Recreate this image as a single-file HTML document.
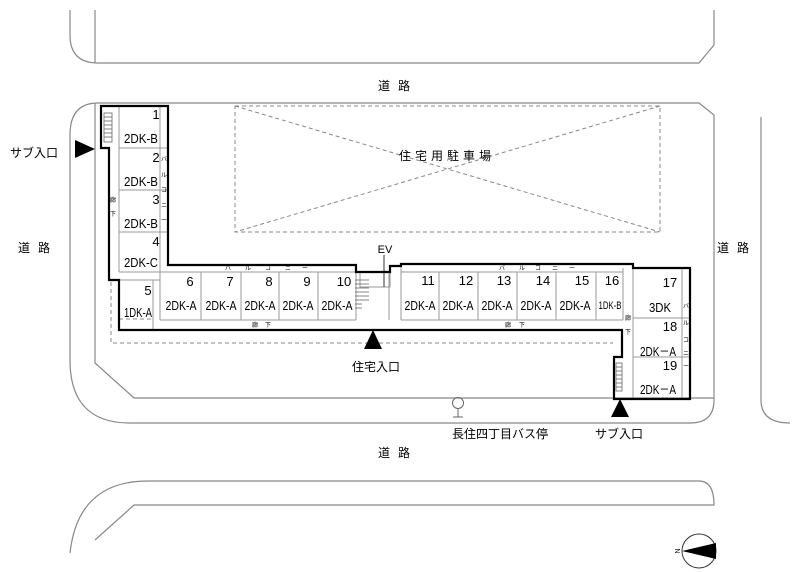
<!DOCTYPE html>
<html><head><meta charset="utf-8"><style>
html,body{margin:0;padding:0;background:#fff;}
svg{display:block;font-family:"Liberation Sans","Noto Sans CJK JP",sans-serif;}
.r{fill:none;stroke:#888;stroke-width:1.2}
.t{fill:none;stroke:#999;stroke-width:1}
.k{fill:none;stroke:#000;stroke-width:2.2}
.d{fill:none;stroke:#888;stroke-width:1;stroke-dasharray:4,3}
.lab{font-size:12px;fill:#000}
.u{font-size:13px;fill:#000;text-anchor:middle}
.s{font-size:6px;fill:#000;text-anchor:middle}
</style></head><body>
<svg width="800" height="572" viewBox="0 0 800 572" xmlns="http://www.w3.org/2000/svg">
<path class="r" d="M70,10 V35 Q70,63 98,63 H699 L714,45 V10"/>
<line class="r" x1="95" y1="10" x2="95" y2="63"/>
<path class="r" d="M70,135 Q70,103 98,103 H699 L714,115 V400 Q714,423 690,423 H130 Q70,423 70,360 Z"/>
<path class="r" d="M95,103 V363 L134,398 H714"/>
<path class="r" d="M761,117 V400 Q761,423 790,423"/>
<path class="r" d="M70,553 Q78,481 148,481 H699 Q714,481 714,505 H134 L95,540"/>
<rect class="d" x="235" y="106" width="425" height="126"/>
<line class="d" x1="235" y1="106" x2="660" y2="232"/>
<line class="d" x1="660" y1="106" x2="235" y2="232"/>
<text class="lab" x="447" y="160" text-anchor="middle" style="letter-spacing:4px">住宅用駐車場</text>
<path class="d" d="M111,282 V343 H613"/>
<g class="t">
<line x1="119" y1="106" x2="119" y2="272"/>
<line x1="160" y1="106" x2="160" y2="272"/>
<line x1="119" y1="148" x2="168" y2="148"/>
<line x1="119" y1="190" x2="168" y2="190"/>
<line x1="119" y1="232" x2="168" y2="232"/>
<line x1="119" y1="272" x2="356" y2="272"/>
<line x1="153" y1="280" x2="153" y2="329"/>
<line x1="119" y1="280" x2="160" y2="280"/>
<line x1="160" y1="272" x2="160" y2="320"/>
<line x1="201" y1="272" x2="201" y2="320"/>
<line x1="241" y1="272" x2="241" y2="320"/>
<line x1="279" y1="272" x2="279" y2="320"/>
<line x1="318" y1="272" x2="318" y2="320"/>
<line x1="160" y1="320" x2="356" y2="320"/>
<line x1="356" y1="272" x2="356" y2="320"/>
<line x1="389" y1="272" x2="389" y2="320"/>
<line x1="401" y1="266" x2="401" y2="320"/>
<line x1="401" y1="272" x2="623" y2="272"/>
<line x1="439" y1="272" x2="439" y2="320"/>
<line x1="478" y1="272" x2="478" y2="320"/>
<line x1="517" y1="272" x2="517" y2="320"/>
<line x1="556" y1="272" x2="556" y2="320"/>
<line x1="596" y1="272" x2="596" y2="320"/>
<line x1="623" y1="268" x2="623" y2="320"/>
<line x1="401" y1="320" x2="623" y2="320"/>
<line x1="633" y1="268" x2="633" y2="399"/>
<line x1="682" y1="268" x2="682" y2="399"/>
<line x1="633" y1="318" x2="690" y2="318"/>
<line x1="633" y1="357" x2="690" y2="357"/>
<rect x="360" y="272" width="30" height="15"/>
</g>
<line class="d" x1="119" y1="319" x2="153" y2="319"/>
<g stroke="#666" stroke-width="0.8">
<rect x="104" y="113" width="8" height="29" fill="none"/>
<line x1="104" y1="117" x2="112" y2="117"/><line x1="104" y1="121" x2="112" y2="121"/><line x1="104" y1="125" x2="112" y2="125"/><line x1="104" y1="129" x2="112" y2="129"/><line x1="104" y1="133" x2="112" y2="133"/><line x1="104" y1="137" x2="112" y2="137"/>
<line x1="355" y1="280" x2="369" y2="280"/><line x1="355" y1="284" x2="369" y2="284"/><line x1="355" y1="288" x2="369" y2="288"/><line x1="355" y1="292" x2="369" y2="292"/><line x1="355" y1="296" x2="369" y2="296"/><line x1="355" y1="300" x2="369" y2="300"/><line x1="355" y1="304" x2="362" y2="304"/><line x1="355" y1="308" x2="362" y2="308"/>
<rect x="616" y="363" width="6" height="28" fill="none"/>
<line x1="616" y1="367" x2="622" y2="367"/><line x1="616" y1="371" x2="622" y2="371"/><line x1="616" y1="375" x2="622" y2="375"/><line x1="616" y1="379" x2="622" y2="379"/><line x1="616" y1="383" x2="622" y2="383"/><line x1="616" y1="387" x2="622" y2="387"/>
</g>
<path class="k" d="M101,106 H168 V265 H356 V272 H390 V266 H401 V264 H633 V268 H690 V399 H614 V357 H622 V330 H119 V280 H109 V148 H101 Z"/>
<line x1="384" y1="255" x2="384" y2="287" stroke="#000" stroke-width="0.8"/>
<text class="lab" x="385" y="253" text-anchor="middle" style="font-size:11px">EV</text>
<g class="u">
<text x="156" y="119">1</text><text x="141" y="143" textLength="34" lengthAdjust="spacingAndGlyphs">2DK-B</text>
<text x="156" y="162">2</text><text x="141" y="186" textLength="34" lengthAdjust="spacingAndGlyphs">2DK-B</text>
<text x="156" y="204">3</text><text x="141" y="228" textLength="34" lengthAdjust="spacingAndGlyphs">2DK-B</text>
<text x="156" y="246">4</text><text x="141" y="267" textLength="34" lengthAdjust="spacingAndGlyphs">2DK-C</text>
<text x="148" y="295">5</text><text x="138" y="317" textLength="28" lengthAdjust="spacingAndGlyphs">1DK-A</text>
<text x="190" y="286">6</text><text x="181" y="310" textLength="31" lengthAdjust="spacingAndGlyphs">2DK-A</text>
<text x="230" y="286">7</text><text x="221" y="310" textLength="31" lengthAdjust="spacingAndGlyphs">2DK-A</text>
<text x="269" y="286">8</text><text x="260" y="310" textLength="31" lengthAdjust="spacingAndGlyphs">2DK-A</text>
<text x="307" y="286">9</text><text x="298" y="310" textLength="31" lengthAdjust="spacingAndGlyphs">2DK-A</text>
<text x="344" y="286">10</text><text x="337" y="310" textLength="31" lengthAdjust="spacingAndGlyphs">2DK-A</text>
<text x="428" y="285">11</text><text x="420" y="310" textLength="31" lengthAdjust="spacingAndGlyphs">2DK-A</text>
<text x="466" y="285">12</text><text x="458" y="310" textLength="31" lengthAdjust="spacingAndGlyphs">2DK-A</text>
<text x="504" y="285">13</text><text x="497" y="310" textLength="31" lengthAdjust="spacingAndGlyphs">2DK-A</text>
<text x="543" y="285">14</text><text x="536" y="310" textLength="31" lengthAdjust="spacingAndGlyphs">2DK-A</text>
<text x="582" y="285">15</text><text x="575" y="310" textLength="31" lengthAdjust="spacingAndGlyphs">2DK-A</text>
<text x="612" y="285">16</text><text x="610" y="309" textLength="23" lengthAdjust="spacingAndGlyphs" style="font-size:11px">1DK-B</text>
<text x="670" y="287">17</text><text x="660" y="312" textLength="22" lengthAdjust="spacingAndGlyphs">3DK</text>
<text x="670" y="331">18</text><text x="658" y="356" textLength="36" lengthAdjust="spacingAndGlyphs">2DK－A</text>
<text x="670" y="370">19</text><text x="658" y="394" textLength="36" lengthAdjust="spacingAndGlyphs">2DK－A</text>
</g>
<g class="s">
<text x="113" y="202">廊</text><text x="113" y="216">下</text>
<text x="164" y="161">バ</text><text x="164" y="177">ル</text><text x="164" y="192">コ</text><text x="164" y="207">ニ</text><text x="164" y="222">ー</text>
<text x="228" y="270">バ</text><text x="248" y="270">ル</text><text x="268" y="270">コ</text><text x="288" y="270">ニ</text><text x="305" y="270">ー</text>
<text x="502" y="270">バ</text><text x="522" y="270">ル</text><text x="538" y="270">コ</text><text x="555" y="270">ニ</text><text x="572" y="270">ー</text>
<text x="255" y="327">廊</text><text x="268" y="327">下</text>
<text x="508" y="327">廊</text><text x="522" y="327">下</text>
<text x="628" y="320">廊</text><text x="628" y="334">下</text>
<text x="686" y="308">バ</text><text x="686" y="325">ル</text><text x="686" y="342">コ</text><text x="686" y="355">ニ</text><text x="686" y="368">ー</text>
</g>
<polygon points="75,140 75,158 95,149" fill="#000"/>
<polygon points="373,330 364,349 382,349" fill="#000"/>
<polygon points="620,399 611,417 629,417" fill="#000"/>
<circle cx="458" cy="403" r="5.5" fill="none" stroke="#666"/>
<line x1="458" y1="409" x2="458" y2="417" stroke="#666"/>
<line x1="453" y1="417" x2="463" y2="417" stroke="#666"/>
<g class="lab">
<text x="378" y="90" style="letter-spacing:8px">道路</text>
<text x="10" y="157">サブ入口</text>
<text x="18" y="252" style="letter-spacing:8px">道路</text>
<text x="717" y="252" style="letter-spacing:8px">道路</text>
<text x="352" y="371">住宅入口</text>
<text x="452" y="438">長住四丁目バス停</text>
<text x="595" y="438">サブ入口</text>
<text x="378" y="457" style="letter-spacing:8px">道路</text>
</g>
<ellipse cx="699" cy="551" rx="17" ry="17" fill="none" stroke="#333"/>
<polygon points="682,551 716,543 716,559" fill="#000"/>
<text x="677" y="554" style="font-size:7px" text-anchor="middle" transform="rotate(-90 677 551)">N</text>
</svg>
</body></html>
